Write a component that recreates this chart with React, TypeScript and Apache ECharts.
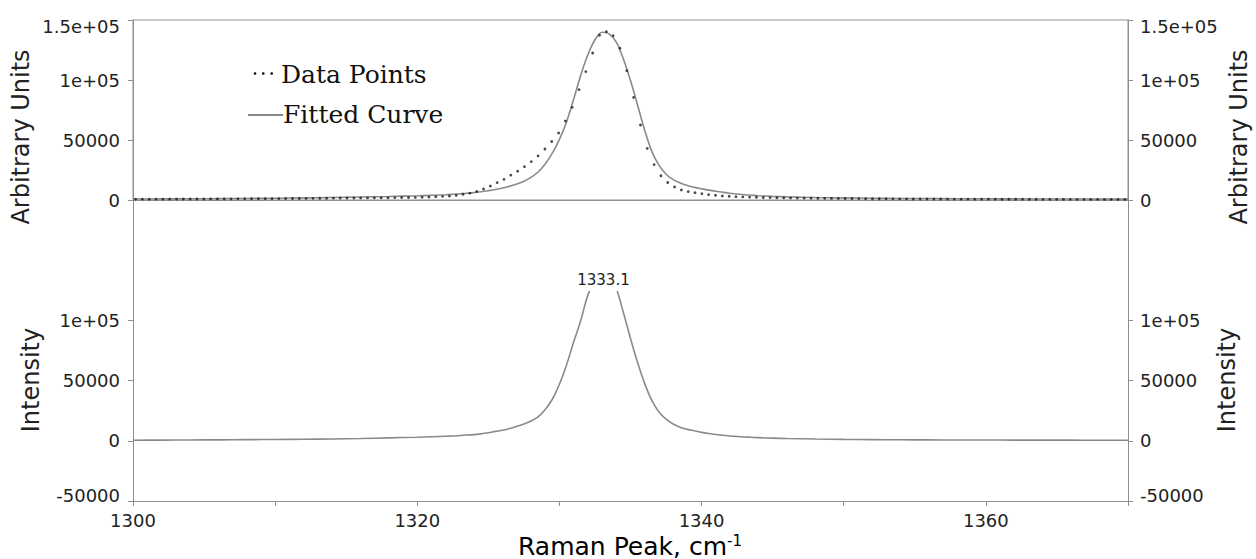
import React, { useEffect, useRef } from "react";
import * as echarts from "echarts";

// Measured data points (wavenumber, arbitrary units)
const dataPoints: [number, number][] = [
  [1300.18, 700], [1300.66, 700], [1301.14, 720], [1301.62, 740], [1302.1, 750], [1302.58, 770],
  [1303.06, 790], [1303.54, 800], [1304.02, 820], [1304.5, 840], [1304.98, 860], [1305.46, 880],
  [1305.94, 900], [1306.42, 920], [1306.9, 950], [1307.38, 970], [1307.86, 1000], [1308.34, 1030],
  [1308.82, 1060], [1309.3, 1090], [1309.78, 1120], [1310.26, 1160], [1310.74, 1200], [1311.22, 1240],
  [1311.7, 1280], [1312.18, 1330], [1312.66, 1380], [1313.14, 1430], [1313.62, 1490], [1314.1, 1550],
  [1314.58, 1600], [1315.06, 1640], [1315.54, 1680], [1316.02, 1720], [1316.5, 1760], [1316.98, 1800],
  [1317.46, 1850], [1317.94, 1900], [1318.42, 1950], [1318.9, 2020], [1319.38, 2100], [1319.86, 2200],
  [1320.34, 2350], [1320.82, 2500], [1321.3, 2750], [1321.78, 3050], [1322.26, 3300], [1322.74, 3850],
  [1323.22, 4800], [1323.7, 5700], [1324.18, 7100], [1324.66, 9200], [1325.14, 11600], [1325.62, 14500],
  [1326.1, 17200], [1326.58, 20700], [1327.06, 24000], [1327.54, 27800], [1328.02, 32000], [1328.5, 36800],
  [1328.98, 42500], [1329.46, 48700], [1329.94, 55800], [1330.42, 65800], [1330.9, 77200], [1331.38, 92000],
  [1331.86, 107000], [1332.34, 122500], [1332.82, 137300], [1333.3, 140300], [1333.78, 137000], [1334.26, 126500],
  [1334.74, 107800], [1335.22, 85500], [1335.7, 62500], [1336.18, 43000], [1336.66, 29500], [1337.14, 20200],
  [1337.62, 14600], [1338.1, 10900], [1338.58, 8400], [1339.06, 7000], [1339.54, 6100], [1340.02, 5300],
  [1340.5, 4500], [1340.98, 3900], [1341.46, 3400], [1341.94, 3100], [1342.42, 2800], [1342.9, 2600],
  [1343.38, 2400], [1343.86, 2250], [1344.34, 2100], [1344.82, 2000], [1345.3, 1900], [1345.78, 1800],
  [1346.26, 1700], [1346.74, 1600], [1347.22, 1550], [1347.7, 1500], [1348.18, 1450], [1348.66, 1400],
  [1349.14, 1350], [1349.62, 1300], [1350.1, 1250], [1350.58, 1200], [1351.06, 1150], [1351.54, 1100],
  [1352.02, 1060], [1352.5, 1020], [1352.98, 980], [1353.46, 950], [1353.94, 920], [1354.42, 890],
  [1354.9, 860], [1355.38, 840], [1355.86, 820], [1356.34, 800], [1356.82, 780], [1357.3, 760],
  [1357.78, 740], [1358.26, 720], [1358.74, 700], [1359.22, 690], [1359.7, 680], [1360.18, 670],
  [1360.66, 660], [1361.14, 650], [1361.62, 640], [1362.1, 630], [1362.58, 620], [1363.06, 610],
  [1363.54, 600], [1364.02, 590], [1364.5, 580], [1364.98, 570], [1365.46, 560], [1365.94, 550],
  [1366.42, 540], [1366.9, 530], [1367.38, 520], [1367.86, 510], [1368.34, 500], [1368.82, 490],
  [1369.3, 480], [1369.78, 470],
];

// Fitted curve (top panel)
const fittedCurve: [number, number][] = [
  [1300, 800], [1302, 900], [1304, 1000], [1306, 1150], [1308, 1300], [1310, 1500],
  [1312, 1750], [1314, 2100], [1316, 2500], [1318, 2950], [1320, 3500], [1321, 3900],
  [1322, 4400], [1322.5, 4800], [1323, 5200], [1323.5, 5600], [1324, 6200], [1324.5, 6900],
  [1325, 7800], [1325.5, 8800], [1326, 10000], [1326.5, 11500], [1327, 13300], [1327.5, 15700],
  [1328, 18800], [1328.5, 23300], [1329, 30000], [1329.5, 39000], [1330, 50500], [1330.5, 65000],
  [1331, 84000], [1331.5, 104000], [1332, 121000], [1332.5, 133500], [1333, 139800], [1333.5, 138500],
  [1334, 131500], [1334.5, 117500], [1335, 99500], [1335.5, 79000], [1336, 58000], [1336.5, 40500],
  [1337, 29000], [1337.5, 21500], [1338, 17000], [1338.5, 14200], [1339, 12000], [1339.5, 10500],
  [1340, 9300], [1340.5, 8200], [1341, 7300], [1341.5, 6400], [1342, 5600], [1342.5, 5000],
  [1343, 4400], [1343.5, 4000], [1344, 3600], [1345, 3000], [1346, 2600], [1348, 2100],
  [1350, 1800], [1352, 1500], [1354, 1300], [1356, 1200], [1358, 1100], [1360, 1000],
  [1362, 920], [1364, 850], [1366, 800], [1368, 750], [1370, 700],
];

// Peak component (bottom panel)
const peakComponent: [number, number][] = [
  [1300, 500], [1302, 600], [1304, 700], [1306, 800], [1308, 950], [1310, 1100],
  [1312, 1300], [1314, 1550], [1316, 1900], [1318, 2400], [1320, 3000], [1321, 3400],
  [1322, 3800], [1322.5, 4000], [1323, 4400], [1323.5, 4800], [1324, 5100], [1324.5, 5800],
  [1325, 6700], [1325.5, 7800], [1326, 8800], [1326.5, 10200], [1327, 12000], [1327.5, 14000],
  [1328, 16500], [1328.5, 19800], [1329, 26000], [1329.5, 34500], [1330, 47000], [1330.5, 63000],
  [1331, 82000], [1331.5, 100000], [1332, 121000], [1332.5, 134000], [1333, 140500], [1333.5, 137500],
  [1334, 126500], [1334.5, 106500], [1335, 85000], [1335.5, 65000], [1336, 47500], [1336.5, 33500],
  [1337, 24000], [1337.5, 18000], [1338, 14000], [1338.5, 11200], [1339, 9500], [1339.5, 8300],
  [1340, 7000], [1340.5, 6000], [1341, 5200], [1341.5, 4600], [1342, 4000], [1342.5, 3600],
  [1343, 3200], [1343.5, 2900], [1344, 2600], [1345, 2200], [1346, 1900], [1348, 1500],
  [1350, 1200], [1352, 1000], [1354, 850], [1356, 750], [1358, 700], [1360, 650],
  [1362, 600], [1364, 560], [1366, 530], [1368, 510], [1370, 500],
];

const peakPosition = 1333.1;
const peakHeight = 141000;
const xLabelValues = [1300, 1320, 1340, 1360];
const topYTicks = [0, 50000, 100000, 150000];
const bottomYTicks = [-50000, 0, 50000, 100000];

const SANS = "DejaVu Sans";
const SERIF = "DejaVu Serif";
const AXIS_COLOR = "#8f8f8f";
const TEXT_COLOR = "#222";
const CURVE_COLOR = "#8a8a8a";

function fmt(v: number): string {
  if (Math.abs(v) >= 100000) {
    return v.toExponential().replace(/e([+-])(\d)$/, (_m: string, s: string, d: string) => "e" + s + "0" + d);
  }
  return String(v);
}

const labelBase = { fontSize: 18, fontFamily: SANS, color: TEXT_COLOR };

function yAxisCfg(grid: number, pos: "left" | "right", min: number, max: number, ticks: number[], top: boolean) {
  return {
    type: "value",
    gridIndex: grid,
    position: pos,
    min,
    max,
    interval: 50000,
    axisLine: { show: true, lineStyle: { color: AXIS_COLOR, width: 1 } },
    axisTick: { show: true, length: 5, customValues: ticks, lineStyle: { color: AXIS_COLOR } },
    splitLine: { show: false },
    axisLabel: {
      ...labelBase,
      margin: pos === "left" ? 13 : 12,
      customValues: ticks,
      formatter: (v: number) => {
        if (top && v === 150000) return "{t|" + fmt(v) + "}";
        if (!top && v === -50000) return "{b|" + fmt(v) + "}";
        return fmt(v);
      },
      rich: {
        t: { ...labelBase, padding: [13, 0, 0, 0] },
        b: { ...labelBase, padding: [0, 0, 11, 0] },
      },
    },
  };
}

const option: any = {
  animation: false,
  backgroundColor: "#fff",
  textStyle: { fontFamily: SANS },
  grid: [
    { left: 133, right: 128, top: 20, height: 180, show: true, borderColor: AXIS_COLOR, borderWidth: 1, backgroundColor: "transparent" },
    { left: 133, right: 128, top: 200, height: 301, show: false },
  ],
  xAxis: [
    {
      type: "value", gridIndex: 0, min: 1300, max: 1370, interval: 10,
      axisLine: { show: true, lineStyle: { color: AXIS_COLOR } },
      axisTick: { show: false }, axisLabel: { show: false }, splitLine: { show: false },
    },
    {
      type: "value", gridIndex: 1, min: 1300, max: 1370, interval: 10,
      axisLine: { show: true, onZero: false, lineStyle: { color: AXIS_COLOR } },
      axisTick: { show: true, length: 5, lineStyle: { color: AXIS_COLOR } },
      splitLine: { show: false },
      axisLabel: { ...labelBase, margin: 10, customValues: xLabelValues, formatter: (v: number) => String(v) },
    },
  ],
  yAxis: [
    yAxisCfg(0, "left", 0, 150000, topYTicks, true),
    yAxisCfg(0, "right", 0, 150000, topYTicks, true),
    yAxisCfg(1, "left", -50000, 200000, bottomYTicks, false),
    yAxisCfg(1, "right", -50000, 200000, bottomYTicks, false),
  ],
  series: [
    {
      name: "Fitted Curve", type: "line", xAxisIndex: 0, yAxisIndex: 0,
      data: fittedCurve, showSymbol: false, smooth: 0.35,
      lineStyle: { color: CURVE_COLOR, width: 1.6 }, z: 2,
    },
    {
      name: "Data Points", type: "scatter", xAxisIndex: 0, yAxisIndex: 0,
      data: dataPoints, symbol: "circle", symbolSize: 2.8,
      itemStyle: { color: "#1a1a1a" }, z: 3,
    },
    {
      name: "Peak", type: "line", xAxisIndex: 1, yAxisIndex: 2,
      data: peakComponent, showSymbol: false, smooth: 0.35,
      lineStyle: { color: CURVE_COLOR, width: 1.6 },
      markPoint: {
        symbol: "circle", symbolSize: 1, silent: true,
        itemStyle: { color: "rgba(0,0,0,0)" },
        label: {
          show: true, position: "inside", offset: [0, 9],
          formatter: String(peakPosition),
          backgroundColor: "#fff", padding: [7, 2, 0, 2],
          fontSize: 15, fontFamily: SANS, color: TEXT_COLOR,
        },
        data: [{ coord: [peakPosition, peakHeight] }],
      },
    },
  ],
  graphic: [
    // axis titles
    { type: "text", x: 21, y: 137, rotation: Math.PI / 2, style: { text: "Arbitrary Units", font: `24px "${SANS}"`, fill: TEXT_COLOR, align: "center", verticalAlign: "middle" } },
    { type: "text", x: 1239, y: 137, rotation: Math.PI / 2, style: { text: "Arbitrary Units", font: `24px "${SANS}"`, fill: TEXT_COLOR, align: "center", verticalAlign: "middle" } },
    { type: "text", x: 31, y: 380, rotation: Math.PI / 2, style: { text: "Intensity", font: `24px "${SANS}"`, fill: TEXT_COLOR, align: "center", verticalAlign: "middle" } },
    { type: "text", x: 1227, y: 380, rotation: Math.PI / 2, style: { text: "Intensity", font: `24px "${SANS}"`, fill: TEXT_COLOR, align: "center", verticalAlign: "middle" } },
    {
      type: "text", x: 630, y: 546,
      style: {
        text: "{a|Raman Peak, cm}{s|-1}",
        align: "center", verticalAlign: "middle",
        rich: {
          a: { fontSize: 25, fontFamily: SANS, color: TEXT_COLOR },
          s: { fontSize: 15, fontFamily: SANS, color: TEXT_COLOR, verticalAlign: "top" },
        },
      },
    },
    // legend
    { type: "circle", shape: { cx: 255, cy: 73.5, r: 1.3 }, style: { fill: "#111" } },
    { type: "circle", shape: { cx: 263.3, cy: 73.5, r: 1.3 }, style: { fill: "#111" } },
    { type: "circle", shape: { cx: 271.7, cy: 73.5, r: 1.3 }, style: { fill: "#111" } },
    { type: "text", x: 281, y: 74.5, style: { text: "Data Points", font: `25px "${SERIF}"`, fill: "#111", align: "left", verticalAlign: "middle" } },
    { type: "line", shape: { x1: 248, y1: 115, x2: 283, y2: 115 }, style: { stroke: "#888", lineWidth: 2 } },
    { type: "text", x: 283, y: 114.6, style: { text: "Fitted Curve", font: `25px "${SERIF}"`, fill: "#111", align: "left", verticalAlign: "middle" } },
  ],
};

export default function App() {
  const ref = useRef<HTMLDivElement>(null);
  useEffect(() => {
    if (!ref.current) return;
    const chart = echarts.init(ref.current, null, { renderer: "svg" });
    chart.setOption(option);
    return () => chart.dispose();
  }, []);
  return (
    <div
      ref={ref}
      style={{ position: "fixed", left: 0, top: 0, width: 1256, height: 559, background: "#fff" }}
    />
  );
}
